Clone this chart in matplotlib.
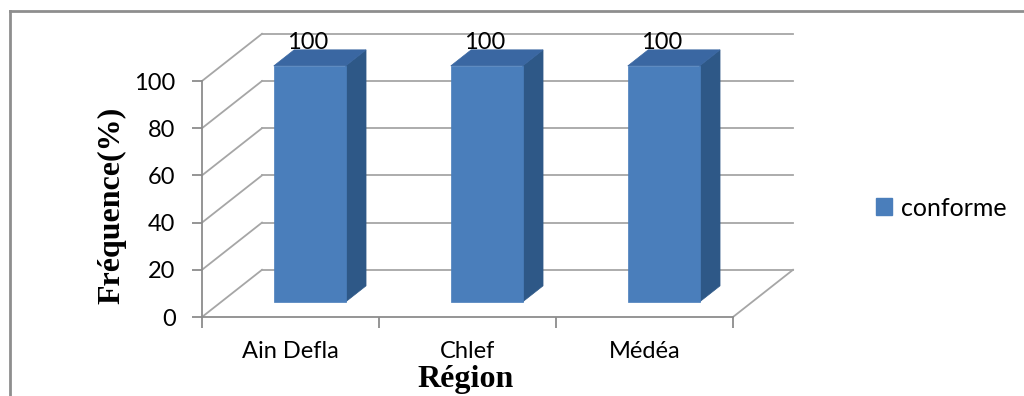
import matplotlib
matplotlib.use("Agg")
import matplotlib.pyplot as plt
from matplotlib.patches import Polygon, Patch
from matplotlib.lines import Line2D

categories = ["Ain Defla", "Chlef", "Médéa"]
values = [100, 100, 100]
series_name = "conforme"
yticks = [0, 20, 40, 60, 80, 100]

W, H = 1024, 396
fig = plt.figure(figsize=(W / 100, H / 100), dpi=100)
fig.patch.set_facecolor("white")

# front plane of the 3D chart
ax = fig.add_axes([202 / W, 1 - 317 / H, 531 / W, 236 / H])
ax.set_xlim(-0.5, len(categories) - 0.5)
ax.set_ylim(0, 100)
ax.set_facecolor("none")

# depth projection (in data units, for a full depth)
DX = 60 / 177.0
DY = 20.0
GRID = "#A6A6A6"
AXC = "#8C8C8C"
FS = 17


def proj(x, y, d):
    return (x + d * DX, y + d * DY)


x0, x1 = -0.5, len(categories) - 0.5
# back wall gridlines + left wall diagonals
for t in yticks:
    bx0, by = proj(x0, t, 1)
    bx1, _ = proj(x1, t, 1)
    ax.plot([bx0, bx1], [by, by], color=GRID, lw=1.3, clip_on=False, zorder=1)
    ax.plot([x0, bx0], [t, by], color=GRID, lw=1.3, clip_on=False, zorder=1)
# floor right edge
fx, fy = proj(x1, 0, 1)
ax.plot([x1, fx], [0, fy], color=GRID, lw=1.3, clip_on=False, zorder=1)

# bars
hw = 0.203
d0, d1 = 0.32, 0.66
FRONT = "#4A7EBB"
SIDE = "#2E5887"
TOP = "#3A67A2"
for i, v in enumerate(values):
    xl, xr = i - hw, i + hw
    front = [proj(xl, 0, d0), proj(xr, 0, d0), proj(xr, v, d0), proj(xl, v, d0)]
    side = [proj(xr, 0, d0), proj(xr, 0, d1), proj(xr, v, d1), proj(xr, v, d0)]
    top = [proj(xl, v, d0), proj(xr, v, d0), proj(xr, v, d1), proj(xl, v, d1)]
    for pts, col in ((side, SIDE), (top, TOP), (front, FRONT)):
        ax.add_patch(Polygon(pts, closed=True, facecolor=col, edgecolor=col,
                             lw=0.5, clip_on=False, zorder=3))
    lx, ly = proj(i, v, d0 - 0.04)
    ax.annotate(str(v), (lx, ly), xytext=(0, 18), textcoords="offset points",
                ha="center", va="center", fontsize=FS, family="Lato",
                annotation_clip=False, zorder=5)

# axes
for s in ("top", "right"):
    ax.spines[s].set_visible(False)
for s in ("left", "bottom"):
    ax.spines[s].set_color(AXC)
    ax.spines[s].set_linewidth(1.3)
ax.set_yticks(yticks)
ax.set_yticklabels([str(t) for t in yticks], family="Lato", fontsize=FS)
ax.tick_params(axis="y", length=7, color=AXC, width=1.3, pad=12)
ax.set_xticks(range(len(categories)))
ax.set_xticklabels(categories, family="Lato", fontsize=FS)
ax.set_xticks([k - 0.5 for k in range(len(categories) + 1)], minor=True)
ax.tick_params(axis="x", which="major", length=0, pad=17)
ax.tick_params(axis="x", which="minor", length=8, color=AXC, width=1.3)

fig.text(466 / W, 1 - 379 / H, "Région", ha="center", va="center",
         family="Liberation Serif", fontweight="bold", fontsize=23)
fig.text(112 / W, 1 - 205 / H, "Fréquence(%)", ha="center", va="center",
         rotation=90, family="Liberation Serif", fontweight="bold", fontsize=23)

fig.legend(handles=[Patch(facecolor=FRONT, edgecolor=FRONT, label=series_name)],
           loc="center left", bbox_to_anchor=(876 / W, 1 - 208 / H),
           frameon=False, prop={"family": "Lato", "size": 18},
           handlelength=0.65, handleheight=0.65, handletextpad=0.35,
           borderpad=0, borderaxespad=0)

# outer chart frame (top & left visible)
fig.add_artist(Line2D([10 / W, 1], [1 - 11 / H, 1 - 11 / H], color="#8E8E8E", lw=2,
                      transform=fig.transFigure))
fig.add_artist(Line2D([10 / W, 10 / W], [0, 1 - 11 / H], color="#8E8E8E", lw=2,
                      transform=fig.transFigure))

fig.savefig("out.png", dpi=100, facecolor="white")
